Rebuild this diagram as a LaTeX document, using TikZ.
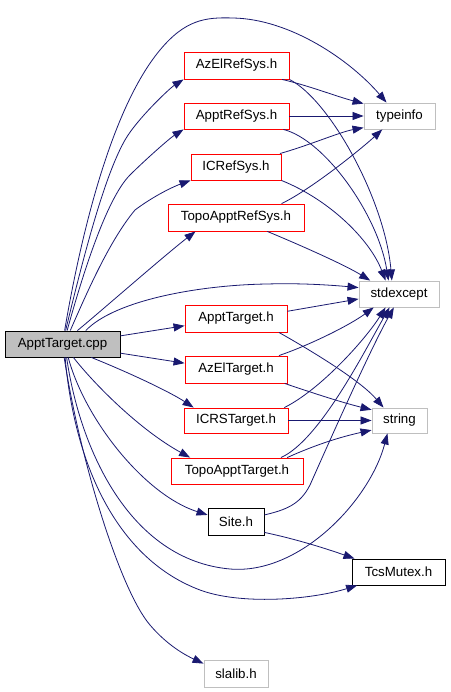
\documentclass[tikz,border=0pt]{standalone}
\usepackage{fontspec}
\setmainfont{Liberation Sans}
\usetikzlibrary{arrows.meta}
\definecolor{edgeblue}{HTML}{191970}
\definecolor{boxgray}{HTML}{BFBFBF}
\begin{document}
\begin{tikzpicture}[x=1pt,y=-1pt,
  box/.style={draw, rectangle, inner sep=0pt, line width=0.9pt, text=black, font=\fontsize{13.3}{16}\selectfont},
  redbox/.style={box, draw=red},
  graybox/.style={box, draw=boxgray},
  blackbox/.style={box, draw=black},
  edge/.style={draw=edgeblue, line width=0.8pt, -{Triangle[length=11pt,width=8pt]}}]
\useasboundingbox[fill=white] (0,0) rectangle (450,692);
% nodes
\node[blackbox, fill=boxgray, minimum width=115pt, minimum height=26pt] (cpp) at (62.5,344) {ApptTarget.cpp};
\node[redbox, minimum width=105pt, minimum height=27pt] (AzR) at (236.5,65.5) {AzElRefSys.h};
\node[redbox, minimum width=105pt, minimum height=26pt] (ApR) at (236.5,116) {ApptRefSys.h};
\node[graybox, minimum width=71pt, minimum height=26pt] (TI) at (399.5,116) {typeinfo};
\node[redbox, minimum width=90pt, minimum height=26pt] (ICR) at (236,167) {ICRefSys.h};
\node[redbox, minimum width=136pt, minimum height=27pt] (TAR) at (236,217.5) {TopoApptRefSys.h};
\node[graybox, minimum width=80pt, minimum height=26pt] (SE) at (399,294) {stdexcept};
\node[redbox, minimum width=102pt, minimum height=27pt] (ApT) at (236,318.5) {ApptTarget.h};
\node[redbox, minimum width=102pt, minimum height=27pt] (AzT) at (236,369.5) {AzElTarget.h};
\node[graybox, minimum width=55pt, minimum height=25pt] (STR) at (399.5,420.5) {string};
\node[redbox, minimum width=104pt, minimum height=25pt] (ICT) at (236,420.5) {ICRSTarget.h};
\node[redbox, minimum width=132pt, minimum height=26pt] (TAT) at (237,471) {TopoApptTarget.h};
\node[blackbox, minimum width=56pt, minimum height=27pt] (Site) at (236,521.5) {Site.h};
\node[blackbox, minimum width=93pt, minimum height=26pt] (TM) at (398.5,572) {TcsMutex.h};
\node[graybox, minimum width=64pt, minimum height=27pt] (SL) at (236,673.5) {slalib.h};
% edges from ApptTarget.cpp
\draw[edge] (cpp.81) .. controls (80,240) and (110,110) .. (160,50) .. controls (185,20) and (205,17) .. (233,18) .. controls (290,19) and (350,60) .. (TI.134);
\draw[edge] (cpp.77) .. controls (85,250) and (105,175) .. (125,140) .. controls (137,119) and (170,88) .. (AzR.south west);
\draw[edge] (cpp.71) .. controls (88,255) and (110,195) .. (130,175) .. controls (145,160) and (170,138) .. (ApR.south west);
\draw[edge] (cpp.60) .. controls (88,290) and (110,240) .. (135,210) .. controls (155,195) and (175,186) .. (ICR.south west);
\draw[edge] (cpp.42) .. controls (100,312) and (165,255) .. (TAR.199);
\draw[edge] (cpp.30) .. controls (115,300) and (200,285) .. (267,284) .. controls (300,283) and (330,285) .. (SE.171);
\draw[edge] (cpp.8) -- (ApT.188);
\draw[edge] (cpp.351) -- (AzT.173);
\draw[edge] (cpp.335) .. controls (130,373) and (170,392) .. (ICT.163);
\draw[edge] (cpp.309) .. controls (95,385) and (140,430) .. (TAT.164);
\draw[edge] (cpp.293) .. controls (85,420) and (145,495) .. (Site.167);
\draw[edge] (cpp.287) .. controls (80,450) and (130,560) .. (230,569) .. controls (300,575) and (370,500) .. (STR.227);
\draw[edge] (cpp.281) .. controls (75,470) and (120,560) .. (200,590) .. controls (240,605) and (310,600) .. (TM.198);
\draw[edge] (cpp.277) .. controls (80,460) and (120,590) .. (150,625) .. controls (167,645) and (185,655) .. (SL.163);
% edges from headers
\draw[edge] (AzR.343) .. controls (310,86) and (335,96) .. (TI.161);
\draw[edge] (AzR.south east) .. controls (330,100) and (385,200) .. (SE.118);
\draw[edge] (ApR.east) -- (TI.west);
\draw[edge] (ApR.344) .. controls (325,140) and (378,215) .. (SE.128);
\draw[edge] (ICR.17) .. controls (310,145) and (340,132) .. (TI.198);
\draw[edge] (ICR.south east) .. controls (330,200) and (370,240) .. (SE.135);
\draw[edge] (TAR.17) .. controls (310,190) and (360,150) .. (TI.218);
\draw[edge] (TAR.336) .. controls (300,245) and (345,265) .. (SE.155);
\draw[edge] (ApT.8) -- (SE.187);
\draw[edge] (ApT.342) .. controls (310,350) and (360,380) .. (STR.141);
\draw[edge] (AzT.18) .. controls (310,345) and (350,325) .. (SE.208);
\draw[edge] (AzT.344) .. controls (310,392) and (340,402) .. (STR.159);
\draw[edge] (ICT.15) .. controls (320,390) and (365,340) .. (SE.225);
\draw[edge] (ICT.east) -- (STR.west);
\draw[edge] (TAT.17) .. controls (320,440) and (365,350) .. (SE.235);
\draw[edge] (TAT.15) .. controls (315,445) and (340,437) .. (STR.199);
\draw[edge] (Site.13) .. controls (285,510) and (300,505) .. (310,485) .. controls (330,440) and (370,350) .. (SE.249);
\draw[edge] (Site.339) .. controls (300,540) and (330,550) .. (TM.163);
\end{tikzpicture}
\end{document}
